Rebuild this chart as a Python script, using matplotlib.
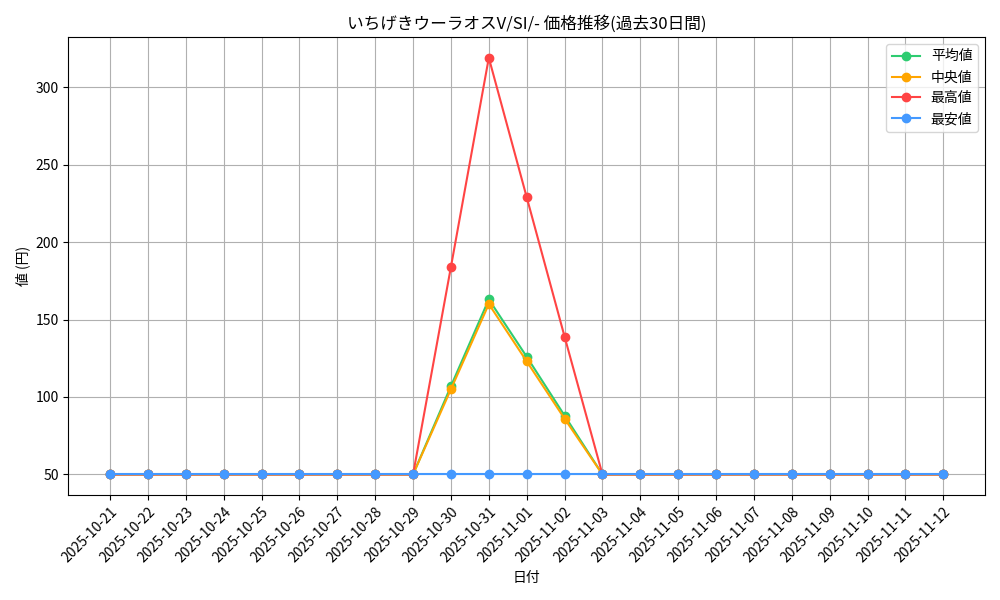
import matplotlib
matplotlib.use("Agg")
import matplotlib.pyplot as plt

plt.rcParams['font.family'] = ['Noto Sans CJK JP', 'DejaVu Sans']

dates = ["2025-10-21","2025-10-22","2025-10-23","2025-10-24","2025-10-25","2025-10-26",
         "2025-10-27","2025-10-28","2025-10-29","2025-10-30","2025-10-31","2025-11-01",
         "2025-11-02","2025-11-03","2025-11-04","2025-11-05","2025-11-06","2025-11-07",
         "2025-11-08","2025-11-09","2025-11-10","2025-11-11","2025-11-12"]
mean_v = [50]*9 + [107, 163, 126, 88] + [50]*10
median_v = [50]*9 + [105, 160, 123, 86] + [50]*10
max_v = [50]*9 + [184, 319, 229, 139] + [50]*10
min_v = [50]*23

fig, ax = plt.subplots(figsize=(10, 6), dpi=100)
x = range(len(dates))
ax.plot(x, mean_v, marker='o', color='#2ecc71', label='平均値')
ax.plot(x, median_v, marker='o', color='#ffa500', label='中央値')
ax.plot(x, max_v, marker='o', color='#ff4444', label='最高値')
ax.plot(x, min_v, marker='o', color='#4499ff', label='最安値')
ax.set_xticks(list(x))
ax.set_xticklabels(dates, rotation=45, ha='right', rotation_mode='anchor')
ax.set_title('いちげきウーラオスV/SI/- 価格推移(過去30日間)')
ax.set_xlabel('日付')
ax.set_ylabel('値 (円)')
ax.grid(True)
ax.legend(loc='upper right')
fig.tight_layout()
fig.savefig('out.png')
